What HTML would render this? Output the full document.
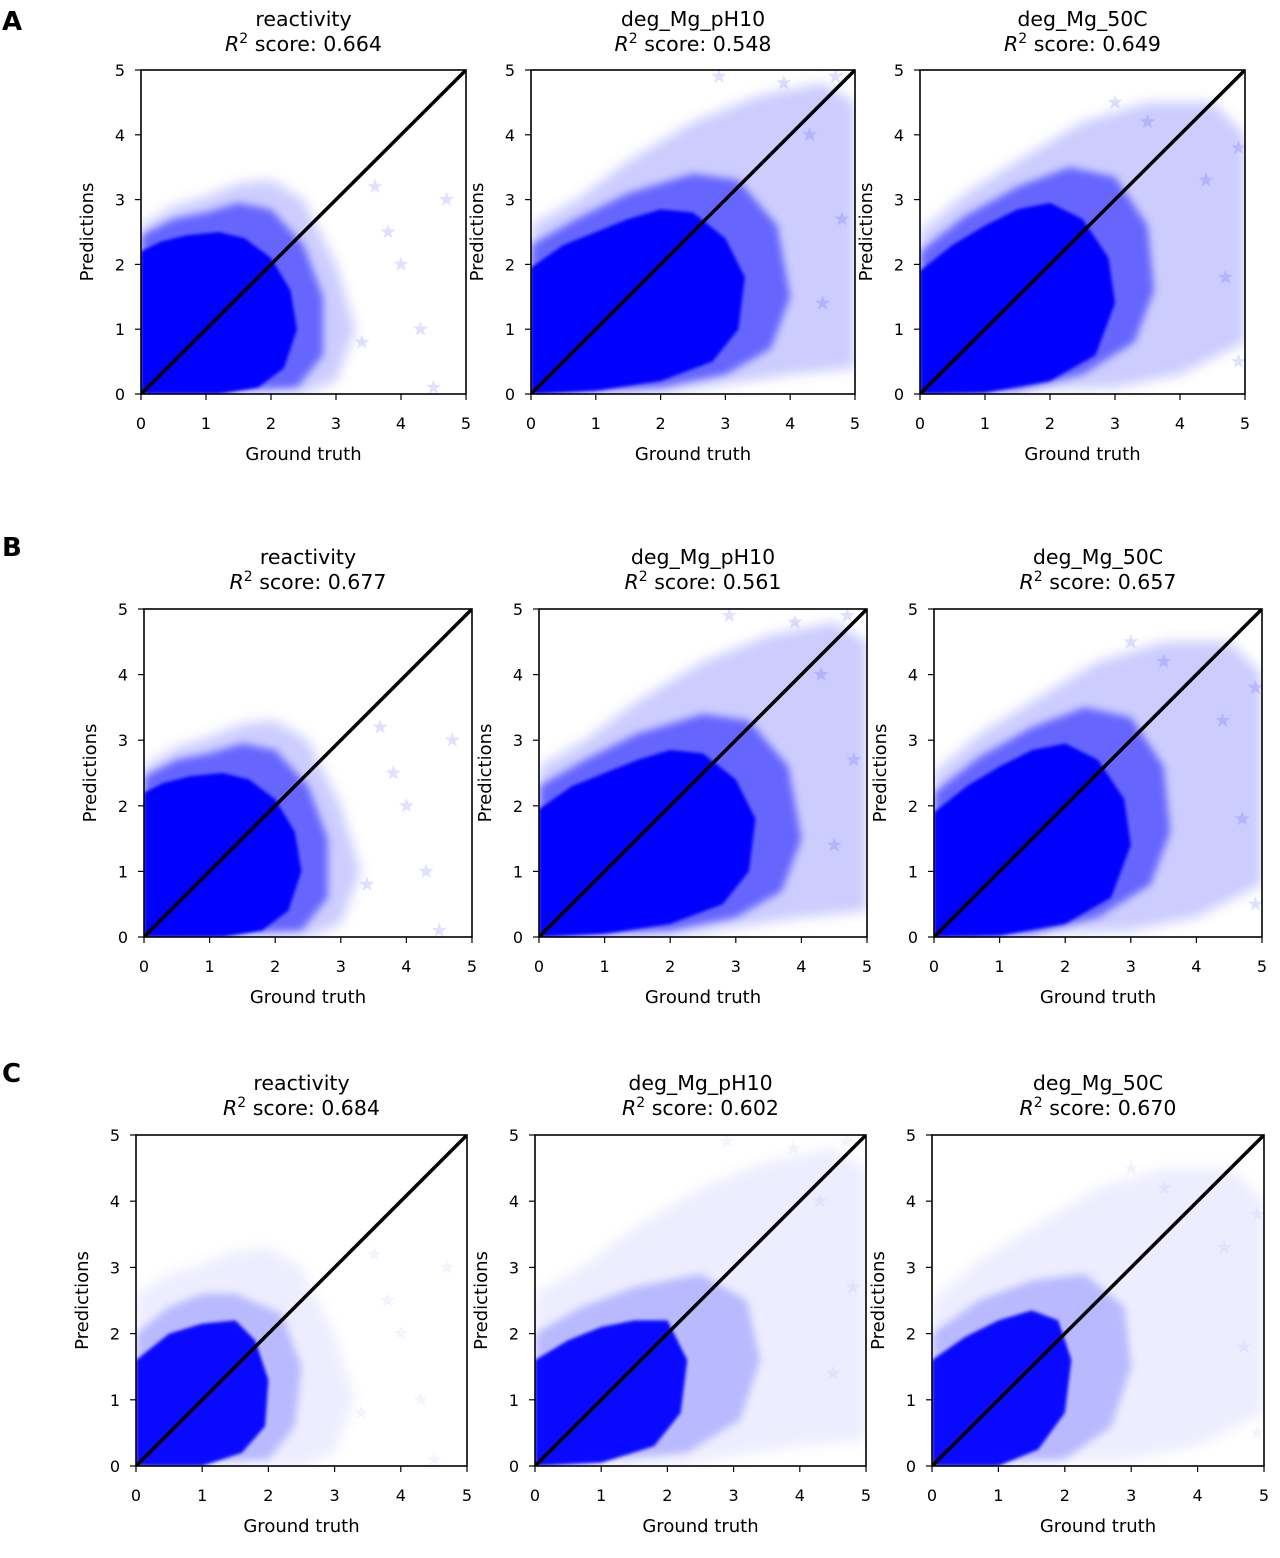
<!DOCTYPE html>
<html><head><meta charset="utf-8"><style>
html,body{margin:0;padding:0;background:#fff;}
svg text{font-family:"DejaVu Sans","Liberation Sans",sans-serif;fill:#000;}
</style></head><body>
<svg id="fig" width="1280" height="1553" viewBox="0 0 1280 1553" xmlns="http://www.w3.org/2000/svg">
<defs>
<filter id="blurHalo" x="-20%" y="-20%" width="140%" height="140%"><feGaussianBlur stdDeviation="6"/></filter>
<filter id="blurMid" x="-20%" y="-20%" width="140%" height="140%"><feGaussianBlur stdDeviation="4"/></filter>
<filter id="blurCore" x="-20%" y="-20%" width="140%" height="140%"><feGaussianBlur stdDeviation="1.5"/></filter>
</defs>
</svg>
<script>
// ---- data ----
const metrics = ["reactivity","deg_Mg_pH10","deg_Mg_50C"];
const scoresA = ["0.664","0.548","0.649"];
const scoresB = ["0.677","0.561","0.657"];
const scoresC = ["0.684","0.602","0.670"];
const xTicks = [0,1,2,3,4,5];
const yTicks = [0,1,2,3,4,5];
// density-core outlines [groundTruth, prediction]
const coreReact = [[0,0],[0,2.2],[0.3,2.35],[0.7,2.45],[1.2,2.5],[1.6,2.4],[2,2.1],[2.3,1.6],[2.4,1.0],[2.2,0.4],[1.8,0.1],[1.2,0]];
const corePH10 = [[0,0],[0,1.95],[0.5,2.3],[1,2.5],[1.5,2.7],[2,2.85],[2.5,2.8],[3,2.4],[3.3,1.8],[3.2,1.0],[2.8,0.5],[2,0.2],[1,0.05]];
const core50C = [[0,0],[0,1.9],[0.5,2.3],[1,2.6],[1.5,2.85],[2,2.95],[2.5,2.7],[2.9,2.1],[3.0,1.4],[2.7,0.6],[2,0.2],[1,0.02]];
const midReact = [[0,0],[0,2.45],[0.5,2.7],[1,2.8],[1.5,2.95],[2,2.85],[2.5,2.3],[2.8,1.5],[2.8,0.6],[2.4,0.1]];
const midPH10 = [[0,0],[0,2.3],[0.7,2.7],[1.5,3.1],[2.5,3.4],[3.2,3.3],[3.8,2.6],[4.0,1.5],[3.7,0.7],[3,0.3],[2,0.1]];
const mid50C = [[0,0],[0,2.2],[0.7,2.75],[1.5,3.2],[2.3,3.5],[3,3.35],[3.5,2.6],[3.6,1.6],[3.3,0.8],[2.5,0.3],[1.5,0.05]];
const haloReact = [[0,0],[0,2.6],[0.5,2.9],[1,3.05],[1.5,3.25],[2,3.3],[2.5,3.0],[3,2.0],[3.3,1.0],[3.0,0.2],[2.5,0]];
const haloPH10 = [[0,0],[0,2.6],[0.7,3.0],[1.5,3.6],[2.5,4.2],[3.5,4.6],[4.5,4.8],[5,4.5],[5,0.4],[4,0.3],[3,0.15],[2,0]];
const halo50C = [[0,0],[0,2.5],[0.7,3.1],[1.5,3.6],[2.5,4.2],[3.5,4.5],[4.5,4.5],[5,4.0],[5,0.8],[4,0.3],[3,0.1]];
const coreReactC = [[0,0],[0,1.6],[0.5,2.0],[1,2.15],[1.5,2.2],[1.8,1.9],[2.0,1.3],[1.95,0.6],[1.6,0.2],[1,0]];
const corePH10C = [[0,0],[0,1.6],[0.5,1.9],[1,2.1],[1.5,2.2],[2,2.2],[2.3,1.6],[2.2,0.8],[1.8,0.3],[1,0.05]];
const core50CC = [[0,0],[0,1.6],[0.5,1.95],[1,2.2],[1.5,2.35],[1.9,2.2],[2.1,1.6],[2.0,0.8],[1.6,0.25],[1,0]];
const midReactC = [[0,0],[0,2.0],[0.5,2.4],[1,2.6],[1.5,2.6],[2.2,2.3],[2.5,1.5],[2.4,0.6],[2,0.1]];
const midPH10C = [[0,0],[0,2.0],[0.7,2.4],[1.5,2.7],[2.5,2.9],[3.2,2.5],[3.4,1.6],[3.1,0.7],[2.3,0.2]];
const mid50CC = [[0,0],[0,2.0],[0.7,2.5],[1.5,2.8],[2.3,2.9],[2.9,2.4],[3.0,1.5],[2.7,0.6],[2,0.1]];
const outReact = [[3.6,3.2],[4.7,3.0],[4.3,1.0],[3.8,2.5],[4.5,0.1],[4.0,2.0],[3.4,0.8]];
const outPH10 = [[4.7,4.9],[2.9,4.9],[4.3,4.0],[4.8,2.7],[4.5,1.4],[3.9,4.8]];
const out50C = [[3.0,4.5],[4.4,3.3],[4.9,3.8],[4.7,1.8],[3.5,4.2],[4.9,0.5]];
// ---- layout ----
const rows = [
 {label:"A", ly:20, t1:18, t2:43, boxes:[[141,70,466,394],[531,70,855,394],[920,70,1245,394]], scores:scoresA, cores:[coreReact,corePH10,core50C], mids:[midReact,midPH10,mid50C], haloOp:0.2, midOp:0.5, coreOp:1},
 {label:"B", ly:546, t1:556, t2:581, boxes:[[144,609,472,937],[539,609,867,937],[934,609,1262,937]], scores:scoresB, cores:[coreReact,corePH10,core50C], mids:[midReact,midPH10,mid50C], haloOp:0.2, midOp:0.5, coreOp:1},
 {label:"C", ly:1072, t1:1082, t2:1107, boxes:[[136,1135,467,1466],[535,1135,866,1466],[932,1135,1264,1466]], scores:scoresC, cores:[coreReactC,corePH10C,core50CC], mids:[midReactC,midPH10C,mid50CC], haloOp:0.07, midOp:0.22, coreOp:0.95}
];
const halos=[haloReact,haloPH10,halo50C];
const outs=[outReact,outPH10,out50C];
const NS="http://www.w3.org/2000/svg";
const svg=document.getElementById('fig');
function mk(tag,attrs,parent){const e=document.createElementNS(NS,tag);for(const k in attrs)e.setAttribute(k,attrs[k]);(parent||svg).appendChild(e);return e;}
function star(cx,cy,r){let p=[];for(let i=0;i<10;i++){const a=-Math.PI/2+i*Math.PI/5;const rr=i%2?r*0.4:r;p.push((cx+rr*Math.cos(a)).toFixed(1)+","+(cy+rr*Math.sin(a)).toFixed(1));}return p.join(" ");}
rows.forEach((row,ri)=>{
 const pl=mk('text',{x:2,y:row.ly+10,'font-size':26,'font-weight':'bold'});
 
 
 pl.textContent=row.label;
 row.boxes.forEach((b,pi)=>{
  const [x0,y0,x1,y1]=b;
  const sx=v=>x0+(x1-x0)*v/5, sy=v=>y1-(y1-y0)*v/5;
  const g=mk('g',{});
  
  
  const cid='clip'+ri+pi;
  const cp=mk('clipPath',{id:cid},g);mk('rect',{x:x0,y:y0,width:x1-x0,height:y1-y0},cp);
  const pg=mk('g',{'clip-path':'url(#'+cid+')'},g);
  const halo=mk('polygon',{points:halos[pi].map(p=>sx(p[0])+","+sy(p[1])).join(" "),fill:'#0000ff','fill-opacity':row.haloOp,filter:'url(#blurHalo)'},pg);
  
  
  const mid=mk('polygon',{points:row.mids[pi].map(p=>sx(p[0])+","+sy(p[1])).join(" "),fill:'#0000ff','fill-opacity':row.midOp,filter:'url(#blurMid)'},pg);
  
  
  const core=mk('polygon',{points:row.cores[pi].map(p=>sx(p[0])+","+sy(p[1])).join(" "),fill:'#0000ff','fill-opacity':row.coreOp,filter:'url(#blurCore)'},pg);
  
  
  outs[pi].forEach(p=>{
   const s=mk('polygon',{points:star(sx(p[0]),sy(p[1]),8),fill:'#0000ff','fill-opacity':row.haloOp*0.6});
   
   
   pg.appendChild(s);
  });
  const dl=mk('line',{x1:sx(0),y1:sy(0),x2:sx(5),y2:sy(5),stroke:'#000','stroke-width':3.5},pg);
  
  
  const fr=mk('rect',{x:x0,y:y0,width:x1-x0,height:y1-y0,fill:'none',stroke:'#000','stroke-width':1.6},g);
  
  
  xTicks.forEach(t=>{
   mk('line',{x1:sx(t),y1:y1,x2:sx(t),y2:y1+6,stroke:'#000','stroke-width':1.2},g);
   const tl=mk('text',{x:sx(t),y:y1+35,'font-size':16,'text-anchor':'middle'},g);
   
   
   tl.textContent=t;
  });
  yTicks.forEach(t=>{
   mk('line',{x1:x0-6,y1:sy(t),x2:x0,y2:sy(t),stroke:'#000','stroke-width':1.2},g);
   const tl=mk('text',{x:x0-16,y:sy(t)+6,'font-size':16,'text-anchor':'end'},g);
   
   
   tl.textContent=t;
  });
  const xl=mk('text',{x:(x0+x1)/2,y:y1+66,'font-size':18,'text-anchor':'middle'},g);
  
  
  xl.textContent='Ground truth';
  const ym=(y0+y1)/2, yx=x0-48;
  const yl=mk('text',{x:yx,y:ym,'font-size':18,'text-anchor':'middle',transform:'rotate(-90 '+yx+' '+ym+')'},g);
  
  
  yl.textContent='Predictions';
  const cx=(x0+x1)/2;
  const t1=mk('text',{x:cx,y:row.t1+8,'font-size':20.5,'text-anchor':'middle'},g);
  
  
  t1.textContent=metrics[pi];
  const t2=mk('text',{x:cx,y:row.t2+8,'font-size':20.5,'text-anchor':'middle'},g);
  
  
  const a=mk('tspan',{'font-style':'italic'},t2);a.textContent='R';
  const s2=mk('tspan',{'font-size':14,dy:-8},t2);s2.textContent='2';
  const r=mk('tspan',{dy:8},t2);r.textContent=' score: '+row.scores[pi];
 });
});
</script>
</body></html>
